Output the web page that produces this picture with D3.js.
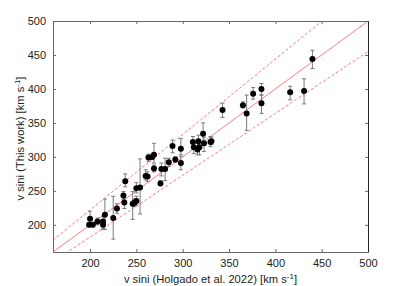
<!DOCTYPE html>
<html>
<head>
<meta charset="utf-8">
<script src="https://cdn.jsdelivr.net/npm/d3@7"></script>
<style>
  body { margin: 0; background: #fff; }
  text { font-family: "Liberation Sans", Helvetica, Arial, sans-serif; }
</style>
</head>
<body>
<div id="chart"></div>
<script>
// v sini from Holgado et al. 2022 (x) and this work (y), with error bar bounds
const holgado  = [199, 200, 203, 208, 214, 214, 216, 225, 229, 236, 237, 238, 246, 248, 250, 250, 254, 260, 262, 263, 267, 269, 269, 276, 277, 281, 285, 289, 292, 298, 298, 311, 312, 316, 317, 318, 322, 323, 330, 331, 343, 365, 369, 376, 385, 385, 416, 431, 440];
const thisWork = [200, 209, 200, 205, 205, 200, 215, 210, 224, 243, 233, 264, 231, 233, 235, 254, 255, 272, 271, 299, 300, 303, 283, 261, 282, 282, 292, 316, 296, 312, 291, 322, 314, 311, 323, 314, 334, 320, 322, 323, 369, 376, 364, 393, 400, 379, 395, 397, 444];
const errLow   = [197, 201, 197, 200, 193, 194, 193, 179, 217, 237, 224, 256, 208, 227, 229, 247, 216, 266, 264, 293, 296, 291, 278, 258, 272, 265, 286, 306, 292, 303, 281, 315, 305, 303, 315, 303, 322, 308, 315, 318, 358, 372, 339, 385, 391, 364, 384, 378, 430];
const errHigh  = [203, 220, 203, 210, 213, 205, 238, 242, 231, 249, 239, 275, 249, 238, 242, 262, 297, 281, 278, 304, 303, 320, 288, 265, 291, 298, 298, 325, 300, 327, 301, 330, 320, 320, 332, 323, 350, 329, 330, 329, 379, 381, 391, 402, 408, 391, 404, 415, 457];
const ticks = [200, 250, 300, 350, 400, 450, 500];
// reference lines: one-to-one and the two dashed bounds
const slopes = [1, 1.11, 0.91];

const margin = { top: 21, right: 39, bottom: 34, left: 53 };
const width = 407 - margin.left - margin.right;
const height = 286 - margin.top - margin.bottom;

const svg = d3.select("#chart")
    .append("svg")
    .attr("width", 407)
    .attr("height", 286)
    .append("g")
    .attr("transform", `translate(${margin.left},${margin.top})`);

const x = d3.scaleLinear().domain([160, 500]).range([0, width]);
const y = d3.scaleLinear().domain([160, 500]).range([height, 0]);

svg.append("defs").append("clipPath").attr("id", "clip")
    .append("rect").attr("width", width).attr("height", height);

// reference lines
svg.append("g")
    .attr("clip-path", "url(#clip)")
    .selectAll("line")
    .data(slopes)
    .join("line")
    .attr("x1", x(160)).attr("y1", s => y(160 * s))
    .attr("x2", x(500)).attr("y2", s => y(500 * s))
    .attr("stroke", "#ff5a5a")
    .attr("stroke-width", 0.8)
    .attr("stroke-dasharray", s => s === 1 ? null : "3,2");

// error bars
const idx = d3.range(holgado.length);
const eb = svg.append("g").attr("stroke", "#7a7a7a").attr("stroke-width", 1);
eb.selectAll("line.v")
    .data(idx)
    .join("line")
    .attr("class", "v")
    .attr("x1", i => x(holgado[i])).attr("x2", i => x(holgado[i]))
    .attr("y1", i => y(errLow[i])).attr("y2", i => y(errHigh[i]));
eb.selectAll("line.lo")
    .data(idx)
    .join("line")
    .attr("class", "lo")
    .attr("x1", i => x(holgado[i]) - 2).attr("x2", i => x(holgado[i]) + 2)
    .attr("y1", i => y(errLow[i])).attr("y2", i => y(errLow[i]));
eb.selectAll("line.hi")
    .data(idx)
    .join("line")
    .attr("class", "hi")
    .attr("x1", i => x(holgado[i]) - 2).attr("x2", i => x(holgado[i]) + 2)
    .attr("y1", i => y(errHigh[i])).attr("y2", i => y(errHigh[i]));

// points
svg.append("g")
    .selectAll("circle")
    .data(idx)
    .join("circle")
    .attr("cx", i => x(holgado[i]))
    .attr("cy", i => y(thisWork[i]))
    .attr("r", 3)
    .attr("fill", "#000");

// axes, ticks pointing inward on all four sides
const axisStyle = g => {
    g.select(".domain").attr("stroke", "#666");
    g.selectAll(".tick line").attr("stroke", "#666");
    g.selectAll(".tick text").attr("fill", "#222").style("font-size", "11px");
};
svg.append("g")
    .attr("transform", `translate(0,${height})`)
    .call(d3.axisBottom(x).tickValues(ticks).tickSizeInner(-3).tickSizeOuter(0).tickPadding(7))
    .call(axisStyle);
svg.append("g")
    .call(d3.axisLeft(y).tickValues(ticks).tickSizeInner(-3).tickSizeOuter(0).tickPadding(7))
    .call(axisStyle);
svg.append("g")
    .call(d3.axisTop(x).tickValues(ticks).tickSizeInner(-3).tickSizeOuter(0).tickFormat(""))
    .call(axisStyle);
svg.append("g")
    .attr("transform", `translate(${width},0)`)
    .call(d3.axisRight(y).tickValues(ticks).tickSizeInner(-3).tickSizeOuter(0).tickFormat(""))
    .call(axisStyle)
    .select(".domain").attr("stroke", "#222");

// axis labels
const xl = svg.append("text")
    .attr("x", width / 2)
    .attr("y", height + 31)
    .attr("text-anchor", "middle")
    .attr("fill", "#222")
    .style("font-size", "11.2px")
    .text("v sini (Holgado et al. 2022) [km s");
xl.append("tspan").attr("dy", -4).style("font-size", "8px").text("-1");
xl.append("tspan").attr("dy", 4).text("]");

const yl = svg.append("text")
    .attr("transform", `translate(-29,${height / 2 + 2}) rotate(-90)`)
    .attr("text-anchor", "middle")
    .attr("fill", "#222")
    .style("font-size", "11.2px")
    .text("v sini (This work) [km s");
yl.append("tspan").attr("dy", -4).style("font-size", "8px").text("-1");
yl.append("tspan").attr("dy", 4).text("]");
</script>
</body>
</html>
